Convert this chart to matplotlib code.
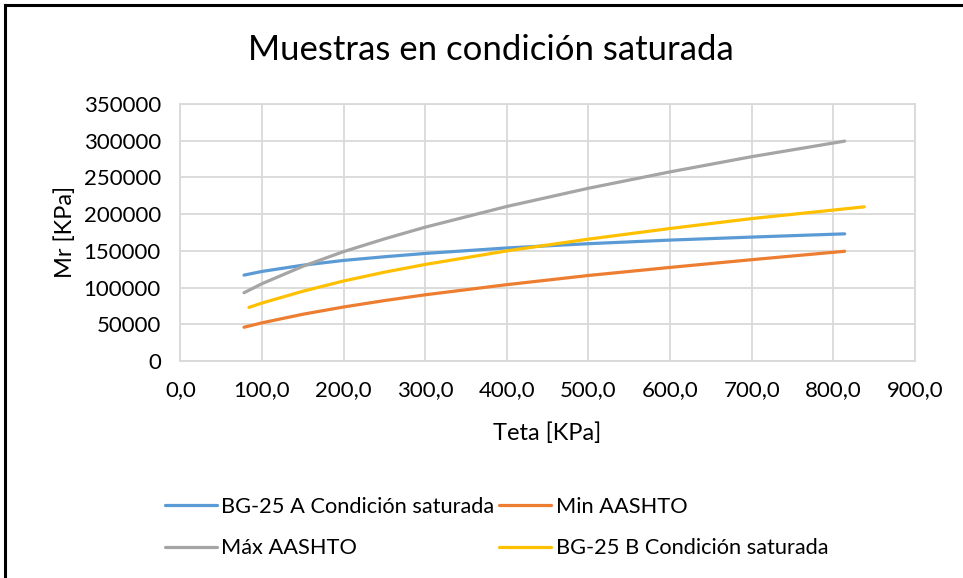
import numpy as np
import matplotlib
matplotlib.use('Agg')
from matplotlib import pyplot as plt
from matplotlib.lines import Line2D
from matplotlib.ticker import FuncFormatter

plt.rcParams['font.family'] = ['Lato', 'DejaVu Sans']

# teta [KPa] and Mr [KPa]
teta_a = [78, 100, 150, 200, 250, 300, 400, 500, 600, 700, 814]
mr_a = [117000, 122000, 130500, 137000, 142000, 146500, 154000, 159800, 164700, 168800, 173200]

teta_min = [78, 100, 150, 200, 250, 300, 400, 500, 600, 700, 814]
mr_min = [46000, 52000, 63700, 73600, 82300, 90200, 104000, 116500, 127500, 138000, 149500]

teta_max = [78, 100, 150, 200, 250, 300, 400, 500, 600, 700, 814]
mr_max = [93000, 105300, 129000, 149000, 166300, 182300, 210500, 235300, 257600, 278300, 299500]

teta_b = [84, 100, 150, 200, 250, 300, 400, 500, 600, 700, 838]
mr_b = [73000, 79000, 95000, 109000, 121000, 131500, 150000, 166000, 180500, 194000, 210000]

fig = plt.figure(figsize=(9.63, 5.78), dpi=100)
ax = fig.add_axes([0.1873, 0.3754, 0.7627, 0.4446])

lw = 2.3
l_a, = ax.plot(teta_a, mr_a, color='#5B9BD5', lw=lw, solid_capstyle='round', label='BG-25 A Condición saturada')
l_min, = ax.plot(teta_min, mr_min, color='#ED7D31', lw=lw, solid_capstyle='round', label='Min AASHTO')
l_max, = ax.plot(teta_max, mr_max, color='#A5A5A5', lw=lw, solid_capstyle='round', label='Máx AASHTO')
l_b, = ax.plot(teta_b, mr_b, color='#FFC000', lw=lw, solid_capstyle='round', label='BG-25 B Condición saturada')

ax.set_xlim(0, 900)
ax.set_ylim(0, 350000)
ax.set_xticks(np.arange(0, 901, 100))
ax.set_yticks(np.arange(0, 350001, 50000))
ax.xaxis.set_major_formatter(FuncFormatter(lambda v, p: ('%.1f' % v).replace('.', ',')))
ax.yaxis.set_major_formatter(FuncFormatter(lambda v, p: '%d' % v))
ax.tick_params(length=0, labelsize=16)
ax.tick_params(axis='x', pad=14)
ax.tick_params(axis='y', pad=14)
ax.grid(True, color='#d9d9d9', lw=1.3)
for s in ax.spines.values():
    s.set_color('#d9d9d9')
    s.set_linewidth(1.3)
ax.set_axisbelow(True)

fig.text(0.568, 0.251, 'Teta [KPa]', ha='center', va='center', fontsize=17)
fig.text(0.0675, 0.599, 'Mr [KPa]', ha='center', va='center', fontsize=17, rotation=90)
fig.text(0.51, 0.913, 'Muestras en condición saturada', ha='center', va='center', fontsize=25)

fig.legend(handles=[l_a, l_max, l_min, l_b], ncol=2, loc='upper left',
           bbox_to_anchor=(0.162, 0.156), frameon=False, fontsize=15.7,
           handlelength=2.38, handletextpad=0.22, columnspacing=0.22, labelspacing=1.0,
           borderaxespad=0)

# chart border (left and top)
fig.add_artist(Line2D([0.0055, 0.0055], [0, 0.992], color='black', lw=2.2, transform=fig.transFigure))
fig.add_artist(Line2D([0.0055, 1.0], [0.992, 0.992], color='black', lw=2.2, transform=fig.transFigure))

fig.savefig('out.png', dpi=100)
